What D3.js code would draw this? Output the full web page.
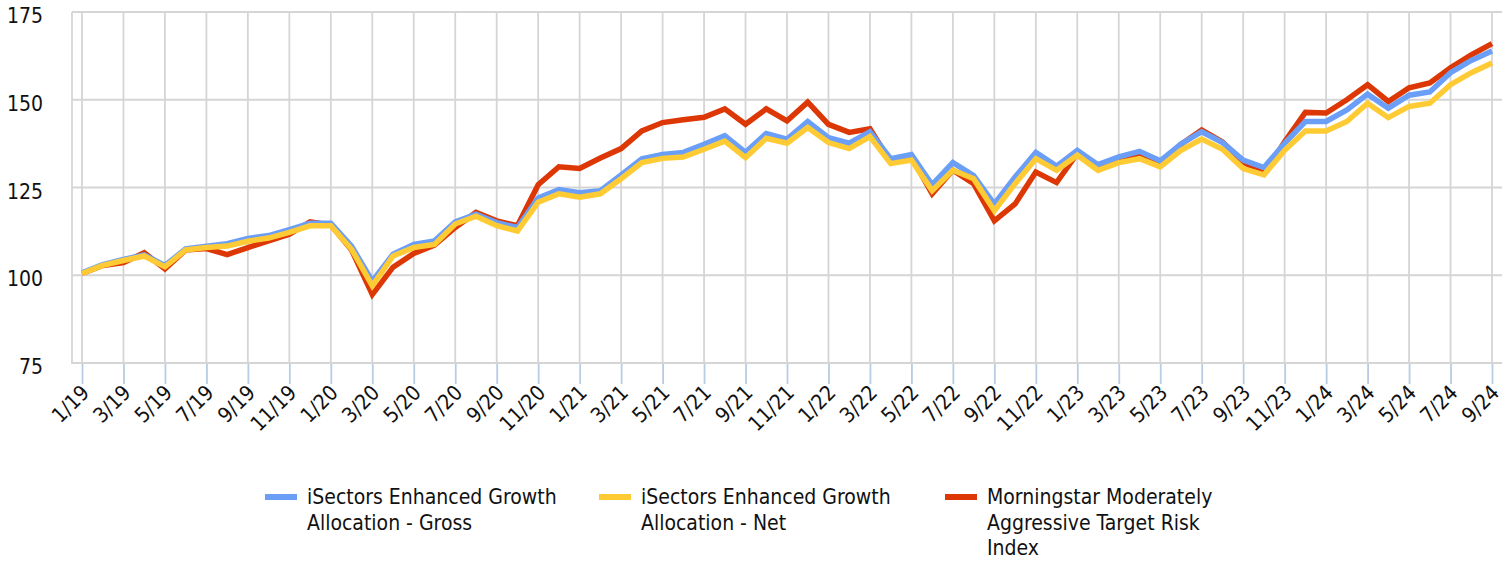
<!DOCTYPE html>
<html>
<head>
<meta charset="utf-8">
<script src="https://cdn.jsdelivr.net/npm/d3@7"></script>
<style>
  body { margin: 0; background: #fff; }
  svg text { font-family: "DejaVu Sans Condensed", "DejaVu Sans", sans-serif; fill: #111; }
</style>
</head>
<body>
<div id="chart"></div>
<script>
// monthly index values, 1/19 .. 9/24
var months = ["1/19","2/19","3/19","4/19","5/19","6/19","7/19","8/19","9/19","10/19","11/19","12/19",
  "1/20","2/20","3/20","4/20","5/20","6/20","7/20","8/20","9/20","10/20","11/20","12/20",
  "1/21","2/21","3/21","4/21","5/21","6/21","7/21","8/21","9/21","10/21","11/21","12/21",
  "1/22","2/22","3/22","4/22","5/22","6/22","7/22","8/22","9/22","10/22","11/22","12/22",
  "1/23","2/23","3/23","4/23","5/23","6/23","7/23","8/23","9/23","10/23","11/23","12/23",
  "1/24","2/24","3/24","4/24","5/24","6/24","7/24","8/24","9/24"];

var gross = [100.7,103.0,104.5,105.8,102.8,107.5,108.3,109.0,110.5,111.3,113.0,114.8,
  114.8,108.3,98.3,106.0,108.8,109.8,115.2,117.4,115.0,113.6,122.0,124.4,
  123.5,124.1,128.6,133.2,134.4,135.0,137.3,139.8,135.0,140.4,138.8,143.8,
  139.2,137.6,140.9,133.2,134.4,125.8,132.1,128.4,120.3,128.0,135.0,131.1,
  135.6,131.5,133.7,135.3,132.6,137.4,140.9,137.8,132.8,130.7,137.6,143.8,
  143.8,147.1,151.6,147.6,151.3,152.2,157.7,161.2,163.9];

var net = [100.5,102.8,104.2,105.5,102.4,107.2,107.9,108.3,109.7,110.6,112.2,114.1,
  114.1,107.4,97.0,105.5,107.9,108.8,114.6,116.8,114.1,112.6,120.8,123.2,
  122.2,123.2,127.5,132.1,133.3,133.7,135.9,138.2,133.5,139.0,137.6,142.1,
  137.8,136.1,139.5,131.8,132.8,124.1,129.9,127.5,118.4,126.1,133.2,129.9,
  134.2,129.9,132.1,133.2,130.9,135.6,138.8,135.9,130.4,128.6,135.6,141.1,
  141.1,143.8,149.0,144.9,148.1,149.0,154.3,157.7,160.5];

var index = [100.5,102.8,103.6,106.4,101.8,107.2,107.6,105.9,107.9,109.8,111.7,115.2,
  114.3,107.2,94.5,102.3,106.2,108.6,113.6,117.9,115.5,114.1,125.8,130.9,
  130.4,133.4,136.1,141.1,143.5,144.3,145.0,147.4,143.0,147.4,144.0,149.3,
  143.0,140.7,141.7,132.3,133.7,123.2,129.9,126.1,115.5,120.3,129.4,126.4,
  134.7,130.9,132.8,134.2,131.8,137.3,141.4,138.0,132.3,128.9,138.0,146.4,
  146.2,150.0,154.3,149.5,153.4,154.8,159.1,162.8,166.0];

var yTicks = [75, 100, 125, 150, 175];
var seriesNames = [
  ["iSectors Enhanced Growth", "Allocation - Gross"],
  ["iSectors Enhanced Growth", "Allocation - Net"],
  ["Morningstar Moderately", "Aggressive Target Risk", "Index"]
];
var colors = ["#6b9ff7", "#ffcb35", "#dc3704"];

var W = 1510, H = 562;
var svg = d3.select("#chart").append("svg")
  .attr("width", W)
  .attr("height", H);

var plotLeft = 72, plotRight = 1502, plotTop = 12, plotBottom = 363;

var x = d3.scaleLinear().domain([0, months.length - 1]).range([82, 1492]);
var y = d3.scaleLinear().domain([75, 175]).range([plotBottom, plotTop]);

var tickIdx = d3.range(0, months.length, 2);
var gridColor = "#d5d5d5";

// grid
var grid = svg.append("g");
grid.selectAll(".hg").data(yTicks).enter().append("line")
  .attr("x1", plotLeft).attr("x2", plotRight)
  .attr("y1", function(d) { return y(d); }).attr("y2", function(d) { return y(d); })
  .attr("stroke", gridColor).attr("stroke-width", 1.8);
grid.selectAll(".vg").data(tickIdx).enter().append("line")
  .attr("x1", function(d) { return x(d); }).attr("x2", function(d) { return x(d); })
  .attr("y1", plotTop).attr("y2", plotBottom)
  .attr("stroke", gridColor).attr("stroke-width", 1.8);
grid.append("line")
  .attr("x1", plotLeft).attr("x2", plotLeft).attr("y1", plotTop).attr("y2", plotBottom + 1)
  .attr("stroke", gridColor).attr("stroke-width", 1.8);

// y axis labels
var yAxis = d3.axisLeft(y).tickValues(yTicks).tickSize(0).tickPadding(0);
svg.append("g")
  .attr("transform", "translate(43,4)")
  .call(yAxis)
  .call(function(g) { g.select(".domain").remove(); })
  .selectAll("text")
  .style("font-size", "21px")
  .attr("fill", "#111");

// x axis ticks + rotated labels
var xAxis = d3.axisBottom(x).tickValues(tickIdx)
  .tickFormat(function(d) { return months[d]; })
  .tickSize(20).tickPadding(0);
var gx = svg.append("g")
  .attr("transform", "translate(0," + (plotBottom + 1) + ")")
  .call(xAxis);
gx.select(".domain").remove();
gx.selectAll(".tick line").attr("stroke", "#b8cce4").attr("stroke-width", 1.8);
gx.selectAll(".tick text")
  .style("font-size", "21px")
  .attr("fill", "#111")
  .attr("text-anchor", "end")
  .attr("dy", null)
  .attr("y", 0)
  .attr("transform", "translate(8,30) rotate(-45)");

// lines: index first, then gross, then net on top
var line = d3.line()
  .x(function(d, i) { return x(i); })
  .y(function(d) { return y(d); });

var drawOrder = [[index, 2], [gross, 0], [net, 1]];
svg.append("g").selectAll("path").data(drawOrder).enter().append("path")
  .attr("d", function(d) { return line(d[0]); })
  .attr("fill", "none")
  .attr("stroke", function(d) { return colors[d[1]]; })
  .attr("stroke-width", 5.5)
  .attr("stroke-linejoin", "miter")
  .attr("stroke-linecap", "butt");

// legend
var legX = [265, 599, 945];
var leg = svg.append("g").selectAll("g").data(seriesNames).enter().append("g")
  .attr("transform", function(d, i) { return "translate(" + legX[i] + ",497)"; });
leg.append("rect")
  .attr("x", 0).attr("y", -3).attr("width", 32).attr("height", 6)
  .attr("fill", function(d, i) { return colors[i]; });
leg.each(function(d) {
  var t = d3.select(this).append("text")
    .attr("x", 42).attr("y", 7)
    .style("font-size", "21px");
  t.selectAll("tspan").data(d).enter().append("tspan")
    .attr("x", 42)
    .attr("dy", function(s, j) { return j === 0 ? 0 : 25.5; })
    .text(function(s) { return s; });
});
</script>
</body>
</html>
